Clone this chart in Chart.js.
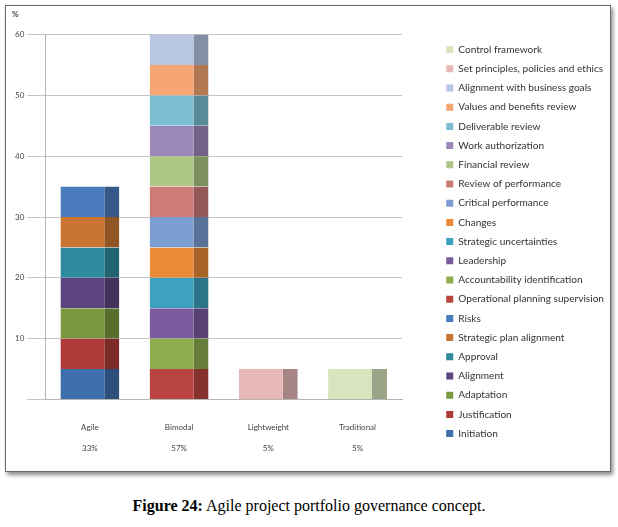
<!DOCTYPE html>
<html>
<head>
<meta charset="utf-8">
<script src="https://cdn.jsdelivr.net/npm/chart.js@4.4.1/dist/chart.umd.min.js"></script>
<style>
  body { margin: 0; background: #fff; width: 618px; height: 527px; position: relative; overflow: hidden; }
  #box {
    position: absolute; left: 5px; top: 5px; width: 606px; height: 467px;
    box-sizing: border-box; border: 1px solid #6a6a6a;
    box-shadow: 2px 3px 4px rgba(0,0,0,0.45); background: #fff;
  }
  #caption {
    position: absolute; left: 0; width: 618px; top: 497px; text-align: center;
    font-family: "Liberation Serif", serif; font-size: 16px; color: #000;
  }
</style>
</head>
<body>
<div id="box"><canvas id="govChart"></canvas></div>
<div id="caption"><b>Figure 24:</b> Agile project portfolio governance concept.</div>
<script>
// categories and their share of the 21 governance items
const categories = ['Agile', 'Bimodal', 'Lightweight', 'Traditional'];
const shares = ['33%', '57%', '5%', '5%'];

// y axis ticks
const yTicks = [10, 20, 30, 40, 50, 60];

// series in stacking order (bottom first)
const seriesNames = [
  'Initiation', 'Justification', 'Adaptation', 'Alignment', 'Approval',
  'Strategic plan alignment', 'Risks', 'Operational planning supervision',
  'Accountability identification', 'Leadership', 'Strategic uncertainties',
  'Changes', 'Critical performance', 'Review of performance', 'Financial review',
  'Work authorization', 'Deliverable review', 'Values and benefits review',
  'Alignment with business goals', 'Set principles, policies and ethics',
  'Control framework'
];

// value of each series per category (Agile, Bimodal, Lightweight, Traditional)
const seriesValues = [
  [5, 0, 0, 0], [5, 0, 0, 0], [5, 0, 0, 0], [5, 0, 0, 0], [5, 0, 0, 0],
  [5, 0, 0, 0], [5, 0, 0, 0],
  [0, 5, 0, 0], [0, 5, 0, 0], [0, 5, 0, 0], [0, 5, 0, 0], [0, 5, 0, 0],
  [0, 5, 0, 0], [0, 5, 0, 0], [0, 5, 0, 0], [0, 5, 0, 0], [0, 5, 0, 0],
  [0, 5, 0, 0], [0, 5, 0, 0],
  [0, 0, 5, 0],
  [0, 0, 0, 5]
];

const seriesColors = [
  '#3e6eab', '#ae3c39', '#7b983f', '#5f4580', '#2f8a9e',
  '#c97431', '#4a7cbd', '#b9443f', '#8fad4f', '#7a5c9e',
  '#3ca2bd', '#eb8b3a', '#7b9dd0', '#cd7b79', '#afc784',
  '#9d88ba', '#7cbfd3', '#f6a672', '#b8c7e2', '#e6b9b8',
  '#d7e4bd'
];

// darker shade for the side face of the bars
function shade(hex, f) {
  const n = parseInt(hex.slice(1), 16);
  const r = Math.round(((n >> 16) & 255) * f);
  const g = Math.round(((n >> 8) & 255) * f);
  const b = Math.round((n & 255) * f);
  return 'rgb(' + r + ',' + g + ',' + b + ')';
}

const ctx = document.getElementById('govChart').getContext('2d');
const govChart = new Chart(ctx, {
  type: 'bar',
  data: {
    labels: categories.map((c, i) => [c, shares[i]]),
    datasets: seriesNames.map((name, i) => ({
      label: name,
      data: seriesValues[i],
      backgroundColor: seriesColors[i],
      borderColor: shade(seriesColors[i], 0.72),
      borderWidth: { top: 0, right: 15, bottom: 0, left: 0 },
      borderSkipped: false,
      barPercentage: 0.66,
      categoryPercentage: 1
    }))
  },
  options: {
    responsive: true,
    maintainAspectRatio: false,
    animation: false,
    layout: { padding: { top: 4, left: 6, right: -4, bottom: 2 } },
    plugins: {
      title: {
        display: true,
        text: '%',
        align: 'start',
        color: '#444',
        font: { family: 'Lato', size: 8 },
        padding: { top: 0, bottom: 15 }
      },
      legend: {
        position: 'right',
        align: 'center',
        reverse: true,
        maxWidth: 220,
        title: { display: true, text: ' ', font: { size: 1 }, padding: 1.5 },
        labels: {
          boxWidth: 7,
          boxHeight: 7,
          padding: 9.1,
          color: '#333',
          font: { family: 'Lato', size: 10.1 },
          generateLabels: (chart) =>
            Chart.defaults.plugins.legend.labels.generateLabels(chart).map(item => {
              item.lineWidth = 0;
              item.strokeStyle = item.fillStyle;
              return item;
            })
        }
      },
      tooltip: { enabled: false }
    },
    scales: {
      x: {
        stacked: true,
        grid: { display: false },
        border: { display: true, color: '#b5b5b5' },
        ticks: {
          color: '#444',
          maxRotation: 0,
          font: { family: 'Lato', size: 8, lineHeight: 2.6 },
          padding: 10
        }
      },
      y: {
        stacked: true,
        min: 0,
        max: 60,
        afterBuildTicks: (scale) => { scale.ticks = [0].concat(yTicks).map(v => ({ value: v })); },
        grid: { color: '#c4c4c4', drawTicks: true, tickLength: 18 },
        border: { display: true, color: '#b5b5b5' },
        ticks: {
          color: '#444',
          font: { family: 'Lato', size: 8 },
          padding: 3,
          callback: (v) => v === 0 ? '' : v
        }
      },
      gap: {
        type: 'linear',
        position: 'right',
        display: true,
        grid: { display: false },
        border: { display: false },
        ticks: { display: false },
        afterFit: (scale) => { scale.width = 35; }
      }
    }
  }
});
</script>
</body>
</html>
